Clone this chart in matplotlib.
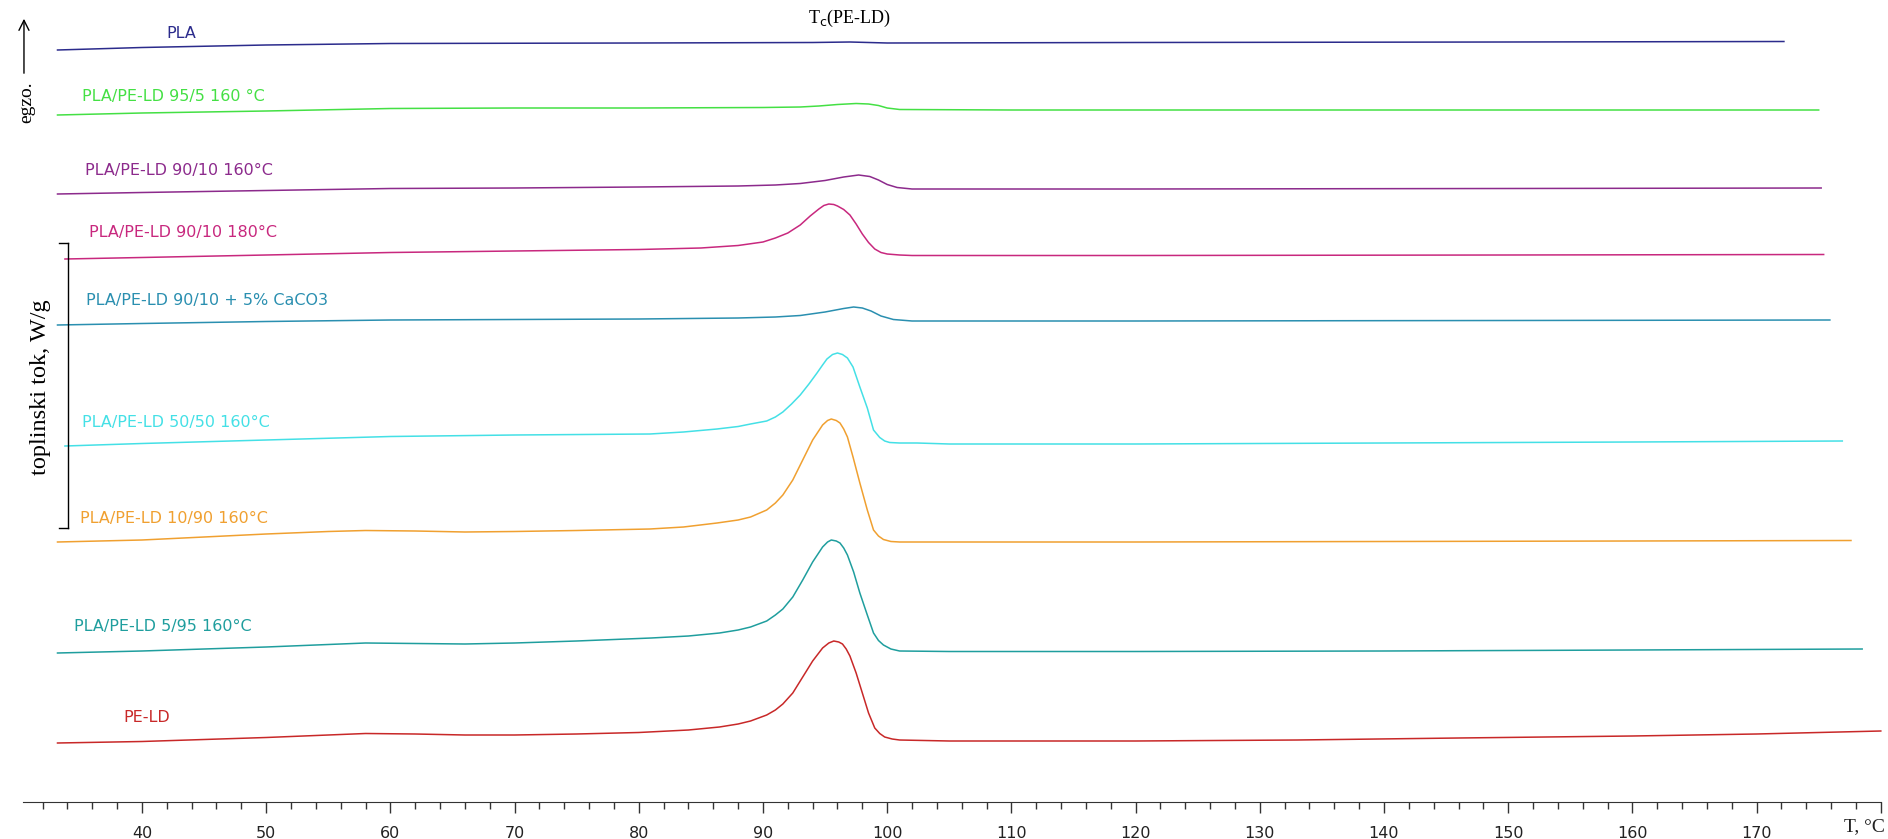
# -- coding: utf-8 --
import numpy as np
import matplotlib
matplotlib.use('Agg')
import matplotlib.pyplot as plt

# DSC krivulje hladjenja (pomaknute po visini), T u °C, visina u proizvoljnim jedinicama
names = ['PLA', 'PLA/PE-LD 95/5 160 °C', 'PLA/PE-LD 90/10 160°C', 'PLA/PE-LD 90/10 180°C',
         'PLA/PE-LD 90/10 + 5% CaCO3', 'PLA/PE-LD 50/50 160°C', 'PLA/PE-LD 10/90 160°C',
         'PLA/PE-LD 5/95 160°C', 'PE-LD']
colors = ['#2b2b8c', '#44e044', '#8c2a8c', '#c8287e', '#2a8fb0', '#44e0e6', '#f0a030', '#1f9e9e', '#c82828']

T_pla = [33.2, 40, 50, 60, 80, 94, 97, 100, 120, 150, 172.2]
y_pla = [50, 47.5, 45, 43.5, 43, 42.5, 42, 43, 42.5, 42, 41.5]

T_955 = [33.2, 40, 50, 60, 70, 80, 90, 93, 94.5, 96, 97.5, 98.5, 99.3, 100, 101, 110, 130, 150, 175]
y_955 = [115, 113, 111, 108.5, 108, 108, 107.5, 107, 106, 104.5, 103.5, 104, 105.5, 108, 109.5, 110, 110, 110, 110]

T_9010 = [33.2, 40, 50, 60, 70, 80, 88, 91, 93, 95, 96.5, 97.7, 98.6, 99.3, 100, 100.8, 102, 120, 150, 175.2]
y_9010 = [194, 192.5, 190.5, 188.5, 188, 187, 186, 185, 183.5, 180.5, 177, 175, 176.5, 180, 184.5, 187.5, 189,
          189, 188.5, 188]

T_9010b = [33.8, 40, 50, 60, 70, 80, 85, 88, 90, 91, 92, 93, 93.8, 94.5, 94.9, 95.3, 95.7, 96, 96.5, 97, 97.5,
           98, 98.5, 99, 99.5, 100, 101, 102, 120, 150, 175.4]
y_9010b = [259, 257.5, 255, 252.5, 251, 249.5, 248, 245.5, 242, 238, 233, 225, 216, 209, 205.5, 204, 204.5, 206,
           209.5, 215, 224, 234, 242.5, 249, 252.5, 254, 255, 255.5, 255.5, 255, 254.5]

T_caco3 = [33.2, 40, 50, 60, 70, 80, 88, 91, 93, 95, 96.5, 97.3, 98, 98.7, 99.5, 100.5, 102, 120, 150, 175.9]
y_caco3 = [325, 323.5, 321.5, 320, 319.5, 319, 318, 317, 315.5, 312, 308.5, 307, 308, 311, 316, 319.5, 321, 321,
           320.5, 320]

T_5050 = [33.8, 40, 50, 60, 70, 80.9, 83.6, 86.3, 88, 89, 90.3, 91, 91.6, 92.3, 93, 93.7, 94.35, 94.8, 95.15,
          95.6, 96, 96.4, 96.8, 97.25, 97.8, 98.4, 98.9, 99.4, 99.8, 100.2, 101, 102.4, 105, 120, 140, 160, 176.9]
y_5050 = [446, 443.5, 440, 436.5, 435, 434, 432, 429, 426.5, 424, 421, 417, 412, 404, 395, 384, 373, 365, 359,
          354.5, 353, 354.5, 358, 367, 387, 408, 430, 437.5, 441, 442.5, 443, 443, 444, 444, 443, 442, 441]

T_1090 = [33.2, 40, 45, 50, 55, 58, 62, 66, 70, 75, 80.9, 83.6, 86.3, 88, 89, 90.3, 91, 91.6, 92.4, 93.2, 94,
          94.8, 95.2, 95.5, 95.9, 96.2, 96.5, 96.8, 97.25, 97.8, 98.4, 98.9, 99.3, 99.7, 100.3, 101, 105, 120,
          140, 160, 177.6]
y_1090 = [542, 540, 537, 534, 531.5, 530.5, 531, 532, 531.5, 530.5, 529, 527, 523, 520, 517, 510, 503, 495, 480,
          460, 440, 425, 420.5, 419, 420.5, 423, 429, 437, 457, 483, 510, 530, 536, 539.5, 541.5, 542, 542, 542,
          541.5, 541, 540.5]

T_595 = [33.2, 40, 50, 55, 58, 62, 66, 70, 75, 81, 84, 86.5, 88, 89, 90.3, 91, 91.6, 92.4, 93.2, 94, 94.8, 95.2,
         95.5, 95.9, 96.2, 96.5, 96.8, 97.3, 97.8, 98.4, 98.9, 99.3, 99.7, 100.3, 101, 105, 120, 140, 160, 178.5]
y_595 = [653, 651, 647, 644.5, 643, 643.5, 644, 643, 641, 638, 636, 633, 630, 627, 621, 615, 609, 597, 580, 562,
         547, 542, 540, 541, 543, 548, 555, 572, 593, 615, 633, 640.5, 645, 649, 651, 651.5, 651.5, 651, 650, 649]

T_peld = [33.2, 40, 50, 55, 58, 62, 66, 70, 75, 80, 84, 86.5, 88, 89, 90.3, 91, 91.6, 92.4, 93.2, 94, 94.8, 95.3,
          95.7, 96.1, 96.4, 96.7, 97, 97.5, 98, 98.5, 99, 99.4, 99.8, 100.4, 101, 105, 120, 133, 146, 160, 170, 180]
y_peld = [743, 741.5, 737.5, 735, 733.5, 734, 735, 735, 734, 732.5, 730, 727, 724, 721, 715, 710, 704, 693, 677,
          661, 648, 643, 641, 642, 644, 649, 656, 673, 693, 713, 728, 733.5, 737, 739, 740, 741, 741, 740, 738,
          736, 734, 731]

T_all = [T_pla, T_955, T_9010, T_9010b, T_caco3, T_5050, T_1090, T_595, T_peld]
y_all = [y_pla, y_955, y_9010, y_9010b, y_caco3, y_5050, y_1090, y_595, y_peld]

# polozaj natpisa (T pocetka teksta, visina)
lab_T = [42.0, 35.2, 35.4, 35.7, 35.5, 35.2, 35.0, 34.5, 38.5]
lab_y = [33, 97, 171, 233, 301, 423, 519, 626, 718]

major = np.arange(40, 181, 10)
minor = [t for t in range(32, 180, 2) if t % 10 != 0]

fig = plt.figure(figsize=(18.88, 8.39), dpi=100)
ax = fig.add_axes([0, 0, 1, 1])
ax.set_xlim(28.57, 180.58)
ax.set_ylim(839, 0)

for T, y, c in zip(T_all, y_all, colors):
    ax.plot(T, y, color=c, lw=1.1)

for n, c, tx, ty in zip(names, colors, lab_T, lab_y):
    ax.text(tx, ty, n, color=c, fontsize=11.5, family='DejaVu Sans', va='center', ha='left')

for s in ['top', 'left', 'right']:
    ax.spines[s].set_visible(False)
ax.spines['bottom'].set_position(('data', 802))
ax.spines['bottom'].set_bounds(30.4, 180)
ax.spines['bottom'].set_color('#333333')
ax.set_yticks([])
ax.set_xticks(major)
ax.set_xticklabels([str(t) for t in major[:-1]] + [''])
ax.set_xticks(minor, minor=True)
ax.tick_params(axis='x', which='major', direction='out', length=8, width=1, color='#333333',
               labelsize=11.5, pad=9, labelcolor='#222222')
ax.tick_params(axis='x', which='minor', direction='out', length=5, width=1, color='#333333')
ax.xaxis.set_ticks_position('bottom')

serif = ['Liberation Serif', 'DejaVu Serif']
ax.text(180.3, 827, 'T, °C', ha='right', va='center', fontsize=14, family=serif, color='#222222')
ax.text(97.0, 18, r'T$_{\rm c}$(PE-LD)', ha='center', va='center', fontsize=13, family=serif)
ax.text(31.8, 387, 'toplinski tok, W/g', rotation=90, ha='center', va='center', fontsize=17.5, family=serif)
ax.text(30.75, 102, 'egzo.', rotation=90, ha='center', va='center', fontsize=14, family=serif)

# strelica egzo.
ax.annotate('', xy=(30.5, 16), xytext=(30.5, 76),
            arrowprops=dict(arrowstyle='->', color='black', lw=1.0, mutation_scale=18))
# skala toplinskog toka
ax.plot([34.05, 34.05], [243, 528], color='black', lw=1.0)
ax.plot([33.3, 34.05], [243, 243], color='black', lw=1.0)
ax.plot([33.3, 34.05], [528, 528], color='black', lw=1.0)

plt.savefig('out.png', dpi=100)
